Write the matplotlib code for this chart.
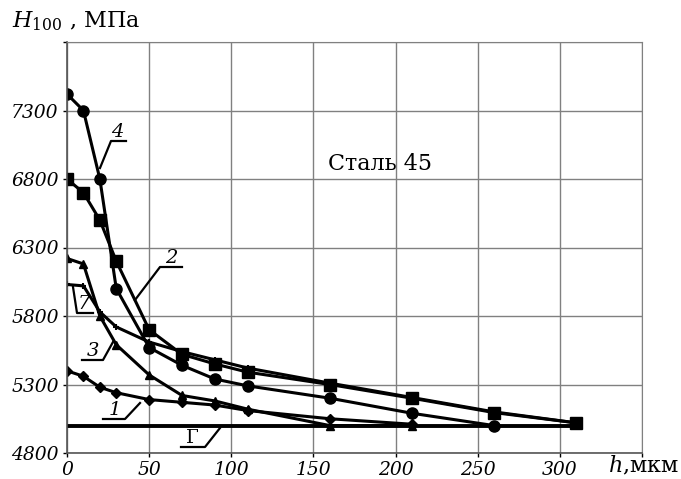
import matplotlib
matplotlib.use("Agg")
import matplotlib.pyplot as plt

plt.rcParams['font.family'] = ['DejaVu Serif']
plt.rcParams['mathtext.fontset'] = 'dejavuserif'

# data
x_all = [0, 10, 20, 30, 50, 70, 90, 110, 160, 210, 260, 310]
c4_x = [0, 10, 20, 30, 50, 70, 90, 110, 160, 210, 260]
c4_y = [7420, 7300, 6800, 6000, 5570, 5440, 5340, 5290, 5200, 5090, 5000]
c2_x = x_all
c2_y = [6800, 6700, 6500, 6200, 5700, 5520, 5450, 5390, 5300, 5200, 5095, 5020]
c7_x = x_all
c7_y = [6030, 6020, 5830, 5720, 5610, 5540, 5480, 5420, 5310, 5205, 5100, 5020]
c3_x = [0, 10, 20, 30, 50, 70, 90, 110, 160, 210]
c3_y = [6220, 6180, 5800, 5590, 5370, 5220, 5180, 5120, 5000, 5000]
c1_x = [0, 10, 20, 30, 50, 70, 90, 110, 160, 210]
c1_y = [5400, 5360, 5280, 5240, 5190, 5170, 5150, 5110, 5050, 5010]
g_x = [0, 310]
g_y = [5000, 5000]

xticks = [0, 50, 100, 150, 200, 250, 300]
yticks = [4800, 5300, 5800, 6300, 6800, 7300]

fig = plt.figure(figsize=(6.81, 4.79), dpi=100)
ax = fig.add_axes([67/681, 1-453/479, (642-67)/681, (453-42)/479])
ax.set_xlim(0, 350)
ax.set_ylim(4800, 7800)
ax.set_xticks(list(range(0, 351, 50)))
ax.set_yticks(list(range(4800, 7801, 500)))
ax.set_xticklabels([str(v) for v in xticks] + [''])
ax.set_yticklabels([str(v) for v in yticks] + [''])
ax.grid(True, color='#808080', lw=1.0)
ax.set_axisbelow(True)
for s in ['top', 'right']:
    ax.spines[s].set_color('#808080')
for s in ['left', 'bottom']:
    ax.spines[s].set_color('#555555')
    ax.spines[s].set_linewidth(1.2)
ax.tick_params(length=3, width=1, labelsize=13.5, pad=3)
for lab in ax.get_xticklabels() + ax.get_yticklabels():
    lab.set_fontstyle('italic')

lw = 2.2
ax.plot(g_x, g_y, color='black', lw=2.8)
ax.plot(c1_x, c1_y, color='black', lw=lw, marker='D', ms=5)
ax.plot(c3_x, c3_y, color='black', lw=lw, marker='^', ms=6)
ax.plot(c7_x, c7_y, color='black', lw=lw, marker='+', ms=5, mew=1.5)
ax.plot(c2_x, c2_y, color='black', lw=lw, marker='s', ms=8)
ax.plot(c4_x, c4_y, color='black', lw=lw, marker='o', ms=8)

def px(xp, yp):
    return ax.transData.inverted().transform((xp, 479 - yp))

def leader(pts, label, lpos, style='italic'):
    xs, ys = zip(*[px(*p) for p in pts])
    ax.plot(xs, ys, color='black', lw=1.6, clip_on=False)
    lx, ly = px(*lpos)
    ax.text(lx, ly, label, fontsize=14, fontstyle=style, ha='center', va='baseline')

fig.canvas.draw()
leader([(100, 168), (111, 141), (126, 141)], '4', (117, 137))
leader([(135, 300), (160, 267), (182, 267)], '2', (171, 263))
leader([(73, 287), (77, 313), (93, 313)], '7', (84, 309))
leader([(113, 342), (103, 360), (82, 360)], '3', (93, 356))
leader([(140, 403), (125, 419), (103, 419)], '1', (115, 415))
leader([(220, 428), (205, 447), (181, 447)], 'Г', (192, 443), style='normal')

ax.text(*px(380, 170), 'Сталь 45', fontsize=16, ha='center', va='baseline')

fig.text(12/681, 1-27/479, r'$H_{100}$ , МПа', fontsize=16, ha='left', va='baseline')
fig.text(608/681, 1-472/479, r'$h$,мкм', fontsize=16, ha='left', va='baseline')

fig.savefig('out.png', dpi=100)
